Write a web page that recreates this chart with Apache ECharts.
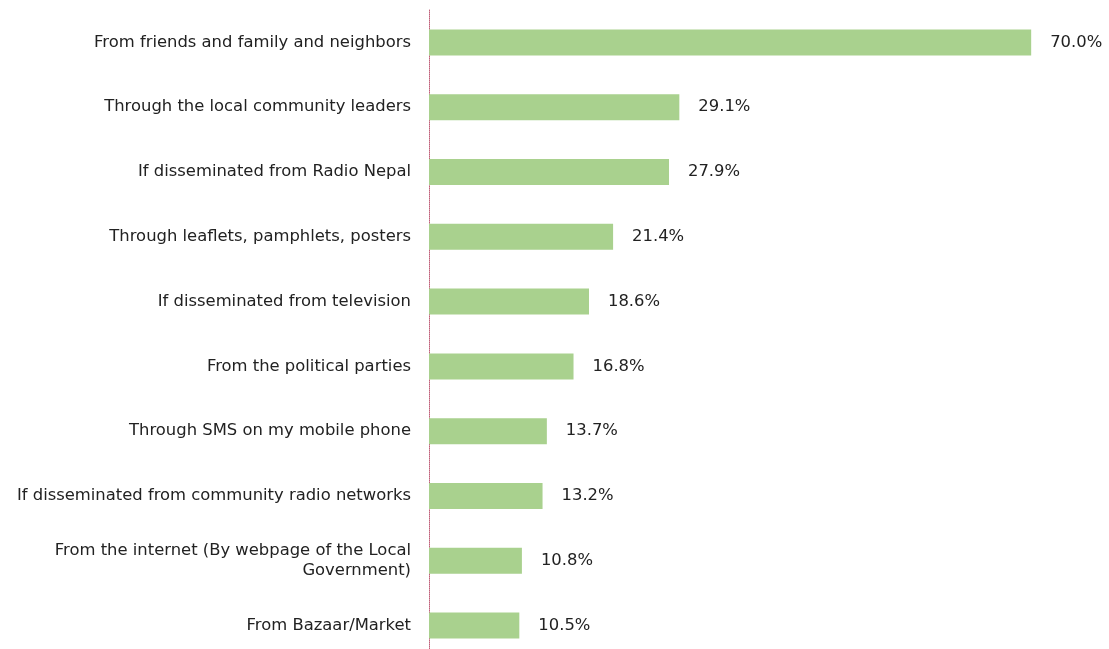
<!DOCTYPE html>
<html>
<head>
<meta charset="utf-8">
<script src="https://cdn.jsdelivr.net/npm/echarts@6/dist/echarts.min.js"></script>
<style>
  html, body { margin: 0; padding: 0; background: #ffffff; overflow: hidden; }
  #chart { width: 1109px; height: 658px; }
</style>
</head>
<body>
<div id="chart"></div>
<script>
// Channels through which respondents would like to receive information (top to bottom)
const categories = [
  'From friends and family and neighbors',
  'Through the local community leaders',
  'If disseminated from Radio Nepal',
  'Through leaflets, pamphlets, posters',
  'If disseminated from television',
  'From the political parties',
  'Through SMS on my mobile phone',
  'If disseminated from community radio networks',
  'From the internet (By webpage of the Local\nGovernment)',
  'From Bazaar/Market'
];
const shares = [70.0, 29.1, 27.9, 21.4, 18.6, 16.8, 13.7, 13.2, 10.8, 10.5];

const chart = echarts.init(document.getElementById('chart'), null, { renderer: 'canvas' });

chart.setOption({
  animation: false,
  textStyle: { fontFamily: 'DejaVu Sans, sans-serif' },
  grid: { left: 429, right: 9, top: 10, bottom: 0, containLabel: false },
  xAxis: {
    type: 'value',
    min: 0,
    max: 78,
    show: false
  },
  yAxis: {
    type: 'category',
    inverse: true,
    data: categories,
    axisLine: {
      show: true,
      lineStyle: { color: '#c0607a', type: [1, 1], width: 1 }
    },
    axisTick: { show: false },
    axisLabel: {
      margin: 18,
      color: '#222222',
      fontSize: 16.4,
      lineHeight: 20,
      align: 'right'
    }
  },
  series: [{
    type: 'bar',
    data: shares,
    barWidth: 26,
    itemStyle: { color: '#a9d18e' },
    label: {
      show: true,
      position: 'right',
      distance: 19,
      color: '#222222',
      fontSize: 16.4,
      formatter: p => p.value.toFixed(1) + '%'
    }
  }]
});
</script>
</body>
</html>
